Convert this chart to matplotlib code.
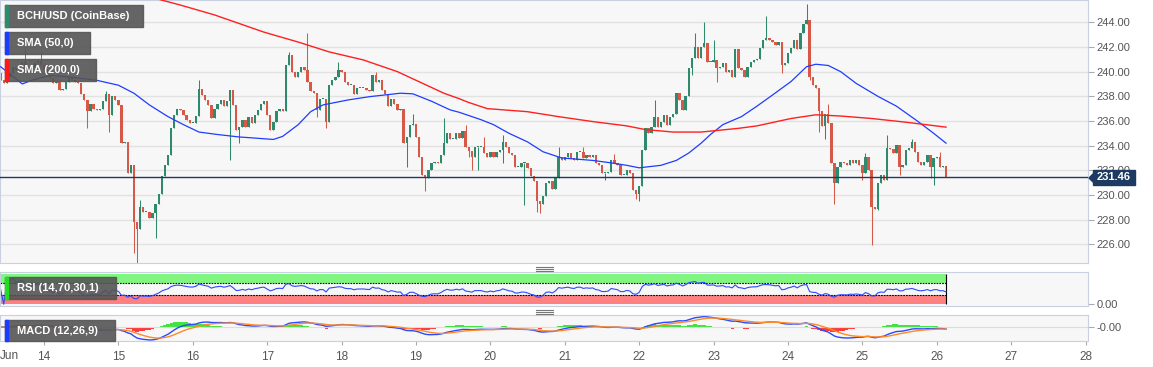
import numpy as np
import pandas as pd
import matplotlib
matplotlib.use("Agg")
import matplotlib.pyplot as plt
from matplotlib.patches import Rectangle, Polygon
from matplotlib.lines import Line2D

plt.rcParams['font.family'] = ['Liberation Sans', 'DejaVu Sans']

W, H = 1153, 367

# hourly closes, BCH/USD, from 13 Jun 10:00 to 26 Jun 03:00
closes = [
    239.3, 239.05, 239.6, 239.9, 240.4, 240.1, 240.5, 240.8, 240.4, 239.9,
    240.3, 240.7, 240.9, 240.5, 240.1, 239.7, 239.5, 239.05, 239.2, 238.5,
    238.6, 239.2, 239.6, 239.3, 239.2, 239.05, 238.2, 237.7, 236.8, 237.4,
    237.0, 236.9, 237.0, 237.6, 238.2, 236.5, 238.0, 237.7, 237.3, 234.2,
    234.3, 231.8, 232.4, 227.8, 227.2, 229.0, 228.6, 228.6, 228.1, 228.5,
    229.3, 230.1, 231.5, 232.4, 233.2, 235.4, 236.5, 237.0, 236.9, 236.5,
    236.1, 235.8, 235.8, 236.4, 238.6, 238.1, 237.7, 237.3, 236.2, 237.0,
    237.4, 237.7, 237.2, 237.6, 238.5, 237.3, 235.3, 235.5, 236.1, 235.5,
    236.35, 235.8, 236.5, 236.9, 237.4, 237.6, 236.5, 235.3, 235.9, 236.8,
    237.0, 236.8, 240.5, 241.35, 240.0, 239.6, 240.0, 240.4, 240.1, 239.2,
    238.4, 238.25, 236.9, 237.8, 237.8, 235.95, 238.9, 239.3, 239.6, 240.1,
    240.0, 239.2, 238.9, 238.9, 238.2, 238.65, 238.65, 238.7, 238.5, 238.4,
    239.7, 239.2, 239.3, 238.5, 238.2, 237.2, 237.8, 237.4, 236.9, 237.0,
    234.2, 234.7, 235.7, 235.75, 234.7, 233.1, 231.6, 231.35, 232.0, 232.6,
    232.7, 232.6, 233.2, 234.2, 235.0, 234.5, 234.5, 235.0, 234.6, 235.2,
    233.9, 233.6, 233.1, 233.9, 233.9, 233.9, 233.4, 233.1, 233.5, 233.1,
    233.5, 233.65, 234.3, 233.9, 233.4, 233.25, 232.3, 232.3, 232.6, 232.6,
    232.2, 231.5, 231.1, 229.5, 229.3, 229.9, 230.95, 231.1, 230.5, 231.35,
    233.1, 232.8, 233.1, 233.4, 233.0, 232.8, 233.5, 233.5, 233.0, 233.25,
    233.1, 233.25, 232.6, 232.4, 231.75, 231.75, 231.9, 232.85, 232.6, 232.4,
    231.6, 231.6, 232.0, 231.75, 230.4, 230.1, 230.7, 233.65, 235.4, 235.0,
    235.5, 236.35, 235.5, 235.95, 236.5, 235.7, 236.35, 236.6, 238.25, 237.7,
    236.9, 238.0, 240.3, 241.1, 242.0, 241.1, 242.0, 242.3, 240.8, 240.8,
    240.95, 240.3, 240.4, 240.7, 240.0, 240.1, 239.6, 241.8, 240.3, 240.1,
    239.6, 240.4, 240.8, 240.95, 241.0, 241.9, 242.6, 242.7, 242.6, 242.4,
    242.2, 242.4, 240.5, 240.7, 241.5, 241.9, 242.6, 241.8, 243.1, 243.9,
    244.2, 239.6, 238.9, 238.7, 236.8, 235.6, 236.6, 235.8, 232.6, 230.95,
    232.3, 232.7, 232.6, 232.4, 232.85, 232.6, 232.85, 232.4, 231.75, 233.1,
    232.0, 229.05, 228.9, 230.95, 231.6, 231.2, 233.8, 233.75, 233.4, 234.05,
    232.3, 232.4, 233.65, 233.8, 234.3, 233.5, 232.7, 232.4, 232.7, 233.25,
    232.3, 233.0, 233.1, 232.3, 232.35, 231.46,
]
first_open = 239.9

# wick extremes that stand out (candle index: price)
high_wicks = {8: 242.0, 13: 241.6, 34: 238.4, 45: 229.6, 64: 239.3, 93: 241.6,
              99: 243.1, 109: 240.8, 121: 240.0, 133: 236.6, 143: 236.2,
              150: 235.7, 156: 234.7, 162: 234.85, 180: 233.9, 188: 233.9,
              198: 233.3, 211: 237.7, 224: 243.1, 227: 244.05, 230: 242.6,
              247: 244.5, 260: 245.5, 267: 237.4, 279: 233.4, 286: 234.85,
              294: 234.5, 303: 233.5}
low_wicks = {28: 235.4, 35: 235.1, 43: 225.3, 44: 224.5, 50: 226.5, 74: 232.8,
             77: 234.2, 102: 236.35, 105: 235.4, 131: 232.3, 137: 230.3,
             151: 233.1, 152: 232.0, 154: 232.0, 162: 232.6, 169: 229.2,
             173: 228.6, 174: 228.5, 195: 231.2, 205: 229.7, 206: 229.5,
             223: 239.7, 231: 239.2, 252: 239.9, 261: 239.3, 264: 235.1,
             266: 234.5, 269: 229.3, 278: 231.2, 281: 225.95, 283: 228.8,
             290: 231.6, 300: 231.35, 301: 230.8}

sma50_idx = [0, 7, 10, 16, 21, 31, 38, 43, 48, 54, 59, 64, 70, 77, 80, 88, 91, 96,
             100, 104, 112, 119, 129, 133, 139, 145, 148, 155, 159, 164, 170, 175,
             181, 191, 197, 202, 206, 213, 218, 222, 226, 229, 233, 239, 244, 249,
             255, 260, 263, 267, 271, 276, 283, 289, 296, 301, 305]
sma50_val = [240.4, 239.0, 239.3, 239.7, 239.6, 239.3, 238.9, 238.25, 237.3, 236.35,
             235.7, 235.1, 234.9, 234.7, 234.65, 234.5, 234.75, 235.7, 236.75, 237.3,
             237.7, 237.97, 238.25, 238.2, 237.6, 236.9, 236.7, 236.1, 235.7, 235.0,
             234.3, 233.5, 233.0, 232.8, 232.6, 232.4, 232.2, 232.4, 232.8, 233.4,
             234.2, 234.9, 235.7, 236.35, 237.2, 238.1, 239.2, 240.4, 240.6, 240.5,
             240.0, 239.05, 238.0, 237.2, 235.95, 235.0, 234.2]
sma200_idx = [0, 52, 58, 69, 77, 85, 96, 106, 117, 128, 134, 143, 148, 151, 157,
              170, 180, 191, 202, 208, 217, 226, 238, 244, 255, 263, 271, 281, 292, 305]
sma200_val = [249.6, 245.8, 245.4, 244.6, 243.9, 243.2, 242.4, 241.6, 240.95, 240.0,
              239.3, 238.25, 237.8, 237.5, 237.0, 236.75, 236.35, 235.95, 235.6, 235.3,
              235.1, 235.1, 235.4, 235.6, 236.2, 236.5, 236.4, 236.2, 235.9, 235.5]

day_labels = list(range(14, 29))
price_ticks = [226, 228, 230, 232, 234, 236, 238, 240, 242, 244]
last_price = 231.46

GREEN = '#2f8a6d'
RED = '#d65846'
SPINE = '#c9d0e2'
BG = '#f7f7f7'
LABEL = '#555555'

c = np.array(closes)
n = len(c)
x = np.arange(n)
o = np.r_[first_open, c[:-1]]
hi = np.maximum(o, c)
lo = np.minimum(o, c)
for k, v in high_wicks.items():
    hi[k] = max(hi[k], v)
for k, v in low_wicks.items():
    lo[k] = min(lo[k], v)
up = c >= o
cols = np.where(up, GREEN, RED)

# indicators from the closes
s = pd.Series(c)
d = s.diff().fillna(0)
ag = d.clip(lower=0).ewm(alpha=1/14, adjust=True).mean()
al = (-d).clip(lower=0).ewm(alpha=1/14, adjust=True).mean()
rsi = (100 - 100 / (1 + ag / al)).fillna(50).values
ema12 = s.ewm(span=12, adjust=False).mean()
ema26 = s.ewm(span=26, adjust=False).mean()
macd = (ema12 - ema26).values
signal = pd.Series(macd).ewm(span=9, adjust=False).mean().values
hist = macd - signal

fig = plt.figure(figsize=(W / 100, H / 100), dpi=100)
fig.patch.set_facecolor('white')


def px_axes(x0, y0, x1, y1):
    return fig.add_axes([x0 / W, 1 - y1 / H, (x1 - x0) / W, (y1 - y0) / H])


XL = (-0.2, 350.8)

ax = px_axes(0, 0, 1088, 263)
ax.set_facecolor(BG)
ax.set_xlim(*XL)
ax.set_ylim(224.48, 245.81)
for sp in ax.spines.values():
    sp.set_color(SPINE)
ax.yaxis.tick_right()
ax.set_yticks(price_ticks)
ax.set_yticklabels(['%.2f' % t for t in price_ticks])
ax.tick_params(axis='y', length=4, color='#aaaaaa', labelsize=8, labelcolor=LABEL, pad=2)
ax.tick_params(axis='x', bottom=False, labelbottom=False)
ax.grid(axis='y', color='#e2e2e2', lw=1)
ax.set_axisbelow(True)

ax.vlines(x, lo, hi, colors=cols, lw=0.75, zorder=2)
ax.bar(x, np.maximum(np.abs(c - o), 0.08), bottom=np.minimum(o, c),
       width=0.75, color=cols, linewidth=0, zorder=2)
ax.plot(sma50_idx, sma50_val, color='#1f3dff', lw=0.9, zorder=3)
ax.plot(sma200_idx, sma200_val, color='#ff2020', lw=1.0, zorder=3)
ax.axhline(last_price, color='#1d3a63', lw=1, zorder=3)

# last price tag on the right scale
tag_y = 1 - 178 / H
fig.patches.append(Rectangle((1093 / W, 1 - 185 / H), 42 / W, 15 / H,
                             transform=fig.transFigure, color='#1d3a63', zorder=10))
fig.patches.append(Polygon([(1089 / W, tag_y), (1093 / W, 1 - 174 / H), (1093 / W, 1 - 182 / H)],
                           closed=True, transform=fig.transFigure, color='#1d3a63', zorder=10))
fig.text(1114 / W, 1 - 177.5 / H, '%.2f' % last_price, color='white', fontsize=8,
         fontweight='bold', ha='center', va='center', zorder=11)

# RSI panel
ar = px_axes(0, 272, 1088, 306)
ar.set_facecolor(BG)
ar.set_xlim(*XL)
ar.set_ylim(-5.7, 107.7)
for sp in ar.spines.values():
    sp.set_color(SPINE)
ar.fill_between([-0.2, n - 1], 70, 100, color='#80f57f', lw=0)
ar.fill_between([-0.2, n - 1], 0, 30, color='#ff8080', lw=0)
ar.hlines([70, 30], -0.2, n - 1, colors='black', lw=0.8, linestyles=(0, (1.5, 1)))
ar.vlines(n - 1, 0, 100, colors='black', lw=0.8)
ar.plot(x, rsi, color='#2a4bff', lw=0.8)
ar.yaxis.tick_right()
ar.set_yticks([0])
ar.set_yticklabels(['0.00'])
ar.tick_params(axis='y', length=4, color='#aaaaaa', labelsize=8, labelcolor=LABEL, pad=2)
ar.tick_params(axis='x', bottom=False, labelbottom=False)

# MACD panel
am = px_axes(0, 315, 1088, 341)
am.set_facecolor(BG)
am.set_xlim(*XL)
A = np.abs(macd).max() * 1.08
am.set_ylim(-A, A * 12 / 14)
for sp in am.spines.values():
    sp.set_color(SPINE)
am.axhline(0, color='#dddddd', lw=0.8)
am.bar(x, hist, width=1.0, color=np.where(hist >= 0, '#20e020', '#ff1a1a'), alpha=0.85, lw=0)
am.plot(x, macd, color='#2a4bff', lw=1.0)
am.plot(x, signal, color='#ff8a2a', lw=1.0)
am.yaxis.tick_right()
am.set_yticks([0])
am.set_yticklabels(['-0.00'])
am.tick_params(axis='y', length=4, color='#aaaaaa', labelsize=8, labelcolor=LABEL, pad=2)
tick_pos = [14 + (dd - 14) * 24 for dd in day_labels]
am.set_xticks(tick_pos)
am.set_xticklabels([str(dd) for dd in day_labels])
am.tick_params(axis='x', length=3, color='#aaaaaa', labelsize=8.5, labelcolor=LABEL, pad=4)
am.annotate('Jun', xy=(3, 0), xycoords=('data', 'axes fraction'), xytext=(0, -6.2),
            textcoords='offset points', ha='center', va='top', fontsize=8.5, color=LABEL)


def label_box(x0, y0, x1, y1, text, strip):
    fig.patches.append(Rectangle((x0 / W, 1 - y1 / H), (x1 - x0) / W, (y1 - y0) / H,
                                 transform=fig.transFigure, color='#555555', alpha=0.9, zorder=10))
    fig.patches.append(Rectangle((x0 / W, 1 - y1 / H), 3 / W, (y1 - y0) / H,
                                 transform=fig.transFigure, color=strip, zorder=11))
    fig.text((x0 + 12) / W, 1 - (y0 + y1) / 2 / H, text, color='white', fontsize=8,
             fontweight='bold', ha='left', va='center', zorder=12)


label_box(5, 5, 143, 27, 'BCH/USD (CoinBase)', '#2e8b6e')
label_box(5, 32, 90, 54, 'SMA (50,0)', '#1a3cff')
label_box(5, 59, 96, 81, 'SMA (200,0)', '#ff1a1a')
label_box(5, 277, 116, 299, 'RSI (14,70,30,1)', '#22dd22')
label_box(5, 320, 115, 341, 'MACD (12,26,9)', '#1a3cff')

# panel resize grips
for gy in (266.5, 268.5, 270.5, 309.5, 311.5, 313.5):
    fig.add_artist(Line2D([536 / W, 553 / W], [1 - gy / H, 1 - gy / H], color='#777777', lw=0.8))

fig.savefig('out.png', dpi=100, facecolor='white')
